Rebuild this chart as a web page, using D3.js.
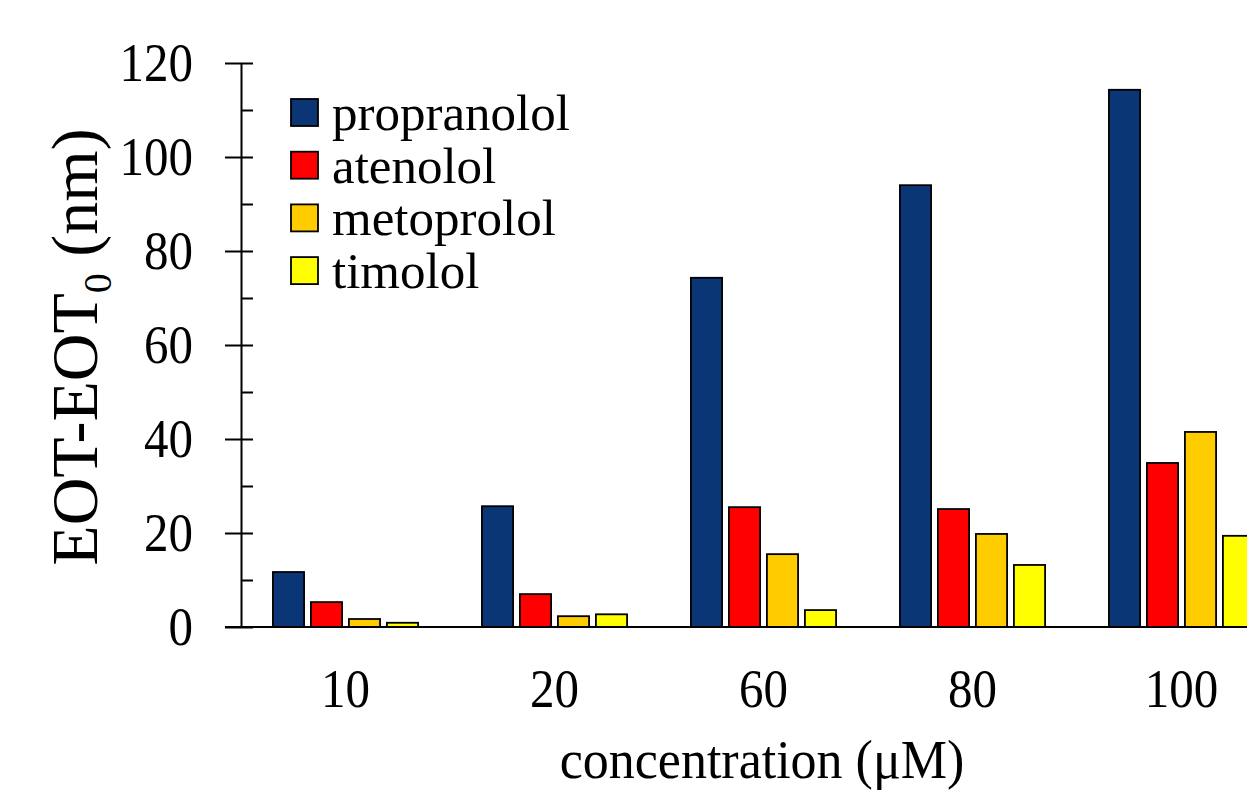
<!DOCTYPE html>
<html>
<head>
<meta charset="utf-8">
<script src="https://cdn.jsdelivr.net/npm/d3@7"></script>
<style>
  body { margin: 0; background: #fff; }
  svg { display: block; font-family: "Times New Roman", "Liberation Serif", serif; }
</style>
</head>
<body>
<div id="chart"></div>
<script>
// concentrations (µM) and series
const concentrations = ["10", "20", "60", "80", "100"];
const seriesNames = ["propranolol", "atenolol", "metoprolol", "timolol"];
const seriesColors = ["#0a3675", "#ff0000", "#ffcc00", "#ffff00"];

const propranolol = [11.7, 25.7, 74.3, 94.0, 114.3];
const atenolol    = [5.3, 7.0, 25.5, 25.1, 34.9];
const metoprolol  = [1.7, 2.3, 15.5, 19.8, 41.5];
const timolol     = [0.9, 2.7, 3.6, 13.2, 19.4];
const seriesValues = [propranolol, atenolol, metoprolol, timolol];

const yMajor = [0, 20, 40, 60, 80, 100, 120];
const yMinor = [0, 10, 20, 30, 40, 50, 60, 70, 80, 90, 100, 110, 120];

const W = 1247, H = 791;
const axisX = 241, baseY = 627, topY = 63;
const stretch = 1.12; // tick digits in the original look a bit taller than wide

const svg = d3.select("#chart").append("svg")
    .attr("width", W)
    .attr("height", H);

const y = d3.scaleLinear().domain([0, 120]).range([baseY, topY]);

const x0 = d3.scaleBand()
    .domain(concentrations)
    .range([axisX, axisX + 5 * 209]);

const x1 = d3.scaleBand()
    .domain(seriesNames)
    .range([0, x0.bandwidth()])
    .paddingInner(0.18)
    .paddingOuter(0.84);

// bars
const groups = svg.append("g").selectAll("g")
    .data(concentrations)
    .join("g")
    .attr("transform", d => `translate(${x0(d)},0)`);

groups.selectAll("rect")
    .data((c, i) => seriesNames.map((s, k) => ({ s, k, v: seriesValues[k][i] })))
    .join("rect")
    .attr("x", d => x1(d.s))
    .attr("y", d => y(d.v))
    .attr("width", x1.bandwidth())
    .attr("height", d => baseY - y(d.v))
    .attr("fill", d => seriesColors[d.k])
    .attr("stroke", "#000")
    .attr("stroke-width", 1.8);

// x axis line (no tick marks)
svg.append("line")
    .attr("x1", axisX - 16).attr("x2", W)
    .attr("y1", baseY).attr("y2", baseY)
    .attr("stroke", "#000").attr("stroke-width", 2);

svg.append("g").selectAll("text")
    .data(concentrations)
    .join("text")
    .attr("transform", d => `translate(${x0(d) + x0.bandwidth() / 2},707) scale(1,${stretch})`)
    .attr("text-anchor", "middle")
    .attr("font-size", 49)
    .text(d => d);

// y axis: major ticks both sides, minor ticks inside
const yAxisG = svg.append("g")
    .attr("transform", `translate(${axisX},0)`)
    .call(d3.axisLeft(y).tickValues(yMajor).tickSizeInner(16).tickSizeOuter(0).tickPadding(32));

svg.append("g")
    .attr("transform", `translate(${axisX},0)`)
    .call(d3.axisRight(y).tickValues(yMinor).tickSizeInner(12).tickSizeOuter(0).tickFormat(""))
    .select(".domain").remove();

svg.selectAll(".tick line").attr("stroke", "#000").attr("stroke-width", 2);
yAxisG.select(".domain").attr("stroke", "#000").attr("stroke-width", 2);
yAxisG.selectAll(".tick text")
    .attr("font-size", 49)
    .attr("font-family", "'Times New Roman', 'Liberation Serif', serif")
    .attr("fill", "#000")
    .attr("transform", `scale(1,${stretch})`);

// axis titles
const yTitle = svg.append("text")
    .attr("transform", "translate(97,347) rotate(-90)")
    .attr("text-anchor", "middle")
    .attr("font-size", 66);
yTitle.append("tspan").text("EOT-EOT");
yTitle.append("tspan").attr("font-size", 40).attr("dy", 14).text("0");
yTitle.append("tspan").attr("dy", -14).text(" (nm)");

svg.append("text")
    .attr("transform", "translate(762,778) scale(1,1.04)")
    .attr("text-anchor", "middle")
    .attr("font-size", 52)
    .text("concentration (\u03bcM)");

// legend
const legend = svg.append("g").selectAll("g")
    .data(seriesNames)
    .join("g")
    .attr("transform", (d, i) => `translate(291,${99 + i * 52.7})`);

legend.append("rect")
    .attr("width", 27).attr("height", 27)
    .attr("fill", (d, i) => seriesColors[i])
    .attr("stroke", "#000")
    .attr("stroke-width", 1.8);

legend.append("text")
    .attr("x", 41)
    .attr("y", 31)
    .attr("font-size", 51)
    .text(d => d);
</script>
</body>
</html>
